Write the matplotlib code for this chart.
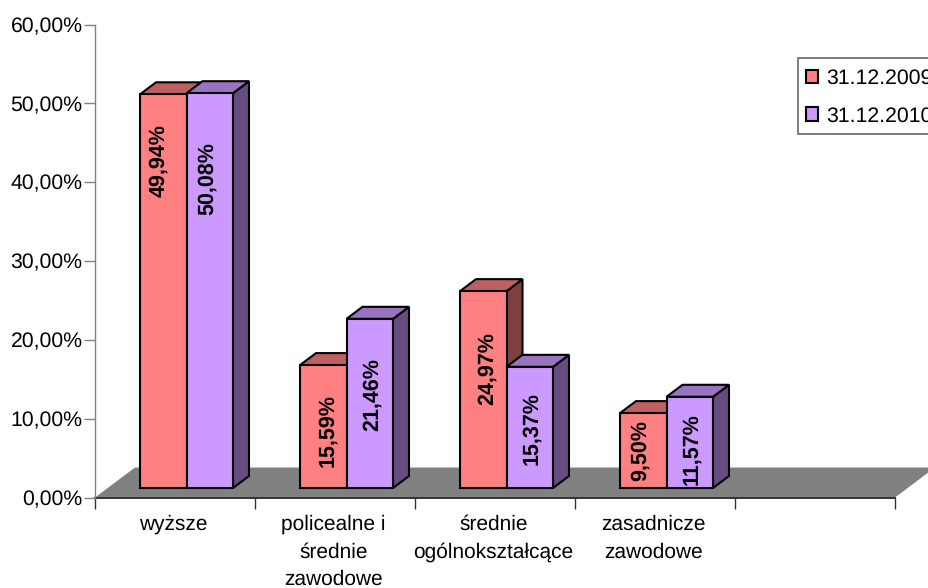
import matplotlib
matplotlib.use("Agg")
import matplotlib.pyplot as plt
from matplotlib.patches import Patch, Rectangle

plt.rcParams["font.family"] = ["Liberation Sans", "DejaVu Sans"]
plt.rcParams["text.hinting"] = "none"

categories = ["wyższe", "policealne i\nśrednie\nzawodowe", "średnie\nogólnokształcące", "zasadnicze\nzawodowe", ""]
series_names = ["31.12.2009", "31.12.2010"]
values_2009 = [49.94, 15.59, 24.97, 9.50]
values_2010 = [50.08, 21.46, 15.37, 11.57]
labels_2009 = ["49,94%", "15,59%", "24,97%", "9,50%"]
labels_2010 = ["50,08%", "21,46%", "15,37%", "11,57%"]
# where Excel put the rotated labels, in picture pixels
label_x_2009 = [159, 328, 487, 640]
label_x_2010 = [207, 372, 532, 692]
label_y_2009 = [161, 431, 369, 451]
label_y_2010 = [179, 395, 429, 449]
y_ticks = [0, 10, 20, 30, 40, 50, 60]

W, H = 929, 588
AX_LEFT, AX_BOTTOM, AX_TOP = 95, 497.5, 24.5
fig = plt.figure(figsize=(W / 100, H / 100), dpi=100)
ax = fig.add_axes([AX_LEFT / W, 1 - AX_BOTTOM / H, 800 / W, (AX_BOTTOM - AX_TOP) / H])
ax.set_xlim(0, 5)
ax.set_ylim(0, 60)

# fake 3d depth, in data units
px_x = 5 / 800
px_y = 60 / (AX_BOTTOM - AX_TOP)
floor_dx, floor_dy = 40 * px_x, 30 * px_y
bar_dx, bar_dy = 16 * px_x, 12 * px_y
base = 9.5 * px_y
bar_w = 46.5 * px_x
start = 45 * px_x

# floor
ax.fill([0, 5, 5 + floor_dx, floor_dx], [0, 0, floor_dy, floor_dy],
        color="#808080", lw=0, zorder=1, clip_on=False)


def draw_bar(x, val, front, top, side, z):
    y1 = base + val
    ax.fill([x + bar_w, x + bar_w + bar_dx, x + bar_w + bar_dx, x + bar_w],
            [base, base + bar_dy, y1 + bar_dy, y1],
            facecolor=side, edgecolor="black", lw=1.5, zorder=z, clip_on=False)
    ax.fill([x, x + bar_dx, x + bar_w + bar_dx, x + bar_w],
            [y1, y1 + bar_dy, y1 + bar_dy, y1],
            facecolor=top, edgecolor="black", lw=1.5, zorder=z, clip_on=False)
    ax.bar(x, val, width=bar_w, bottom=base, align="edge", facecolor=front,
           edgecolor="black", lw=1.5, zorder=z + 0.1, clip_on=False)


def label(px, py, txt):
    ax.text((px - AX_LEFT) * px_x, (AX_BOTTOM - py) * px_y, txt, rotation=90, ha="center", va="center",
            fontsize=15.5, fontweight="bold", zorder=20)


for i in range(len(values_2009)):
    x1 = i + start
    x2 = x1 + bar_w
    draw_bar(x1, values_2009[i], "#FF8080", "#BF6060", "#804040", 2 + i)
    draw_bar(x2, values_2010[i], "#CC99FF", "#9973BF", "#664C80", 2.5 + i)
    label(label_x_2009[i], label_y_2009[i], labels_2009[i])
    label(label_x_2010[i], label_y_2010[i], labels_2010[i])

# axes
for s in ["top", "right"]:
    ax.spines[s].set_visible(False)
ax.spines["left"].set_color("#808080")
ax.spines["left"].set_linewidth(1)
ax.spines["bottom"].set_color("#333333")
ax.spines["bottom"].set_linewidth(1.4)
ax.spines["bottom"].set_zorder(1.5)
ax.set_yticks(y_ticks)
ax.set_yticklabels([f"{t},00%" for t in y_ticks], fontsize=15.3)
ax.tick_params(axis="y", length=8, width=1, color="#808080", pad=1)
ax.set_xticks(range(6))
ax.set_xticklabels([])
ax.tick_params(axis="x", length=8, width=1, color="#333333")
for i, c in enumerate(categories):
    ax.text(i + 0.49, -2.2, c, ha="center", va="top", fontsize=15, linespacing=1.52)

# legend runs off the right edge like the original
fig.add_artist(Rectangle((798 / W, 1 - 134 / H), 140 / W, 76 / H, transform=fig.transFigure,
                         facecolor="white", edgecolor="#666666", lw=1.2))
handles = [Patch(facecolor="#FF8080", edgecolor="black", lw=1.5),
           Patch(facecolor="#CC99FF", edgecolor="black", lw=1.5)]
leg = fig.legend(handles, series_names, loc="upper left", bbox_to_anchor=(795 / W, 1 - 58 / H),
                 fontsize=15.3, frameon=False,
                 handlelength=0.6, handleheight=0.6, handletextpad=0.38,
                 labelspacing=0.85, borderpad=0.5, borderaxespad=0)

fig.savefig("out.png", dpi=100)
